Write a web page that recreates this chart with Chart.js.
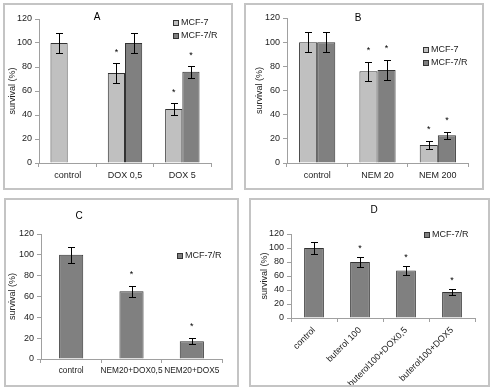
<!DOCTYPE html>
<html>
<head>
<meta charset="utf-8">
<script src="https://cdn.jsdelivr.net/npm/chart.js@4/dist/chart.umd.min.js"></script>
<style>
  html, body { margin: 0; padding: 0; background: #fff; }
  body { width: 492px; height: 390px; position: relative; overflow: hidden; }
  canvas, .frame { position: absolute; }
  .frame { box-sizing: border-box; border: 2px solid #c4c4c4; pointer-events: none; }
</style>
</head>
<body>
<script>
// Panel A
const catsA = ['control', 'DOX 0,5', 'DOX 5'];
const mcf7A = [100, 75, 45];
const mcf7ErrA = [8, 8, 5];
const mcf7StarA = [false, true, true];
const mcf7rA = [null, 100, 76];
const mcf7rErrA = [0, 8, 5];
const mcf7rStarA = [false, false, true];

// Panel B
const catsB = ['control', 'NEM 20', 'NEM 200'];
const mcf7B = [100, 76, 15];
const mcf7ErrB = [8, 8, 3];
const mcf7StarB = [false, true, true];
const mcf7rB = [100, 77, 23];
const mcf7rErrB = [8, 8, 3];
const mcf7rStarB = [false, true, true];

// Panel C
const catsC = ['control', 'NEM20+DOX0,5', 'NEM20+DOX5'];
const mcf7rC = [100, 65, 17];
const mcf7rErrC = [8, 5, 3];
const mcf7rStarC = [false, true, true];

// Panel D
const catsD = ['control', 'buterol 100', 'buterol100+DOX0,5', 'buterol100+DOX5'];
const mcf7rD = [100, 80, 68, 37];
const mcf7rErrD = [8, 7, 6, 4];
const mcf7rStarD = [false, true, true, true];

const yMax = 120;
const yStep = 20;

const LIGHT = '#c0c0c0';
const DARK = '#808080';

Chart.defaults.font.family = '"Liberation Sans", Arial, sans-serif';
Chart.defaults.font.size = 9;
Chart.defaults.color = '#222';

// error bars, asterisks, panel letter and legend
const extras = {
  id: 'extras',
  afterDatasetsDraw(chart, args, o) {
    const ctx = chart.ctx;
    const y = chart.scales.y;
    ctx.save();
    chart.data.datasets.forEach((ds, di) => {
      const meta = chart.getDatasetMeta(di);
      meta.data.forEach((bar, i) => {
        const v = ds.data[i];
        if (v == null) return;
        const e = ds.errors[i];
        const x = Math.round(bar.x) + 0.5;
        const top = Math.round(y.getPixelForValue(v + e)) + 0.5;
        const bot = Math.round(y.getPixelForValue(v - e)) + 0.5;
        ctx.strokeStyle = '#000';
        ctx.lineWidth = 1;
        ctx.beginPath();
        ctx.moveTo(x, top); ctx.lineTo(x, bot);
        ctx.moveTo(x - 3.5, top); ctx.lineTo(x + 3.5, top);
        ctx.moveTo(x - 3.5, bot); ctx.lineTo(x + 3.5, bot);
        ctx.stroke();
        if (ds.stars[i]) {
          ctx.fillStyle = '#000';
          ctx.font = '9px "Liberation Sans", Arial, sans-serif';
          ctx.textAlign = 'center';
          ctx.textBaseline = 'middle';
          ctx.fillText('*', bar.x, top - o.starGap);
        }
      });
    });

    ctx.fillStyle = '#000';
    ctx.font = '10px "Liberation Sans", Arial, sans-serif';
    ctx.textAlign = 'center';
    ctx.textBaseline = 'middle';
    ctx.fillText(o.title, o.titleX, o.titleY);

    ctx.font = '9px "Liberation Sans", Arial, sans-serif';
    ctx.textAlign = 'left';
    chart.data.datasets.forEach((ds, di) => {
      const ly = o.legendY + di * o.legendGap;
      ctx.fillStyle = ds.backgroundColor;
      ctx.fillRect(o.legendX, ly - 3, 6, 6);
      ctx.strokeStyle = '#333';
      ctx.lineWidth = 1;
      ctx.strokeRect(o.legendX + 0.5, ly - 2.5, 5, 5);
      ctx.fillStyle = '#222';
      ctx.fillText(ds.label, o.legendX + 8, ly);
    });
    ctx.restore();
  }
};

function makePanel(box, area, labels, datasets, p) {
  const canvas = document.createElement('canvas');
  canvas.width = box.w;
  canvas.height = box.h;
  canvas.style.left = box.x + 'px';
  canvas.style.top = box.y + 'px';
  canvas.style.width = box.w + 'px';
  canvas.style.height = box.h + 'px';
  const frame = document.createElement('div');
  frame.className = 'frame';
  frame.style.left = box.x + 'px';
  frame.style.top = box.y + 'px';
  frame.style.width = box.w + 'px';
  frame.style.height = box.h + 'px';
  document.body.appendChild(canvas);
  document.body.appendChild(frame);

  const yWidth = area.left - box.x;
  const xHeight = box.y + box.h - area.bottom;

  return new Chart(canvas, {
    type: 'bar',
    data: {
      labels: labels,
      datasets: datasets.map(d => ({
        label: d.label,
        data: d.data,
        errors: d.errors,
        stars: d.stars,
        backgroundColor: d.color,
        borderColor: '#333',
        borderWidth: 1,
        categoryPercentage: p.catPct,
        barPercentage: 1
      }))
    },
    options: {
      responsive: false,
      animation: false,
      devicePixelRatio: 1,
      layout: {
        padding: {
          left: 0,
          top: area.top - box.y,
          right: box.x + box.w - area.right,
          bottom: 0
        }
      },
      plugins: {
        legend: { display: false },
        tooltip: { enabled: false },
        extras: {
          title: p.title,
          titleX: p.titleX - box.x,
          titleY: p.titleY - box.y,
          legendX: p.legendX - box.x,
          legendY: p.legendY - box.y,
          legendGap: 13,
          starGap: p.starGap
        }
      },
      scales: {
        x: {
          offset: true,
          afterFit: s => { s.height = xHeight; },
          border: { display: true, color: '#a0a0a0', width: 1 },
          grid: { display: true, offset: true, drawOnChartArea: false, tickLength: 4, color: '#a0a0a0' },
          ticks: {
            padding: 3,
            autoSkip: false,
            font: { size: p.xFont || 9 },
            maxRotation: p.rotate || 0,
            minRotation: p.rotate || 0
          }
        },
        y: {
          min: 0,
          max: yMax,
          afterFit: s => { s.width = yWidth; },
          border: { display: true, color: '#a0a0a0', width: 1 },
          grid: { display: true, drawOnChartArea: false, tickLength: 4, color: '#a0a0a0' },
          ticks: { stepSize: yStep, padding: 3 },
          title: {
            display: true,
            text: 'survival (%)',
            font: { size: 9 },
            padding: { top: p.yTitlePad, bottom: 0 }
          }
        }
      }
    },
    plugins: [extras]
  });
}

makePanel(
  { x: 3, y: 3, w: 230, h: 187 },
  { left: 39, right: 211, top: 19, bottom: 163 },
  catsA,
  [
    { label: 'MCF-7', data: mcf7A, errors: mcf7ErrA, stars: mcf7StarA, color: LIGHT },
    { label: 'MCF-7/R', data: mcf7rA, errors: mcf7rErrA, stars: mcf7rStarA, color: DARK }
  ],
  { title: 'A', titleX: 97, titleY: 17, legendX: 173, legendY: 23, catPct: 0.6, starGap: 11, yTitlePad: 4 }
);

makePanel(
  { x: 244, y: 3, w: 240, h: 187 },
  { left: 287, right: 468, top: 18, bottom: 163 },
  catsB,
  [
    { label: 'MCF-7', data: mcf7B, errors: mcf7ErrB, stars: mcf7StarB, color: LIGHT },
    { label: 'MCF-7/R', data: mcf7rB, errors: mcf7rErrB, stars: mcf7rStarB, color: DARK }
  ],
  { title: 'B', titleX: 358, titleY: 18, legendX: 423, legendY: 50, catPct: 0.6, starGap: 12, yTitlePad: 10 }
);

makePanel(
  { x: 4, y: 198, w: 235, h: 189 },
  { left: 41, right: 222, top: 234, bottom: 359 },
  catsC,
  [
    { label: 'MCF-7/R', data: mcf7rC, errors: mcf7rErrC, stars: mcf7rStarC, color: DARK }
  ],
  { title: 'C', titleX: 79, titleY: 216, legendX: 177, legendY: 256, catPct: 0.4, starGap: 12, yTitlePad: 3, xFont: 8.3 }
);

makePanel(
  { x: 249, y: 198, w: 241, h: 189 },
  { left: 291, right: 475, top: 234, bottom: 318 },
  catsD,
  [
    { label: 'MCF-7/R', data: mcf7rD, errors: mcf7rErrD, stars: mcf7rStarD, color: DARK }
  ],
  { title: 'D', titleX: 374, titleY: 210, legendX: 424, legendY: 235, catPct: 0.43, starGap: 9, yTitlePad: 10, rotate: 45 }
);
</script>
</body>
</html>
